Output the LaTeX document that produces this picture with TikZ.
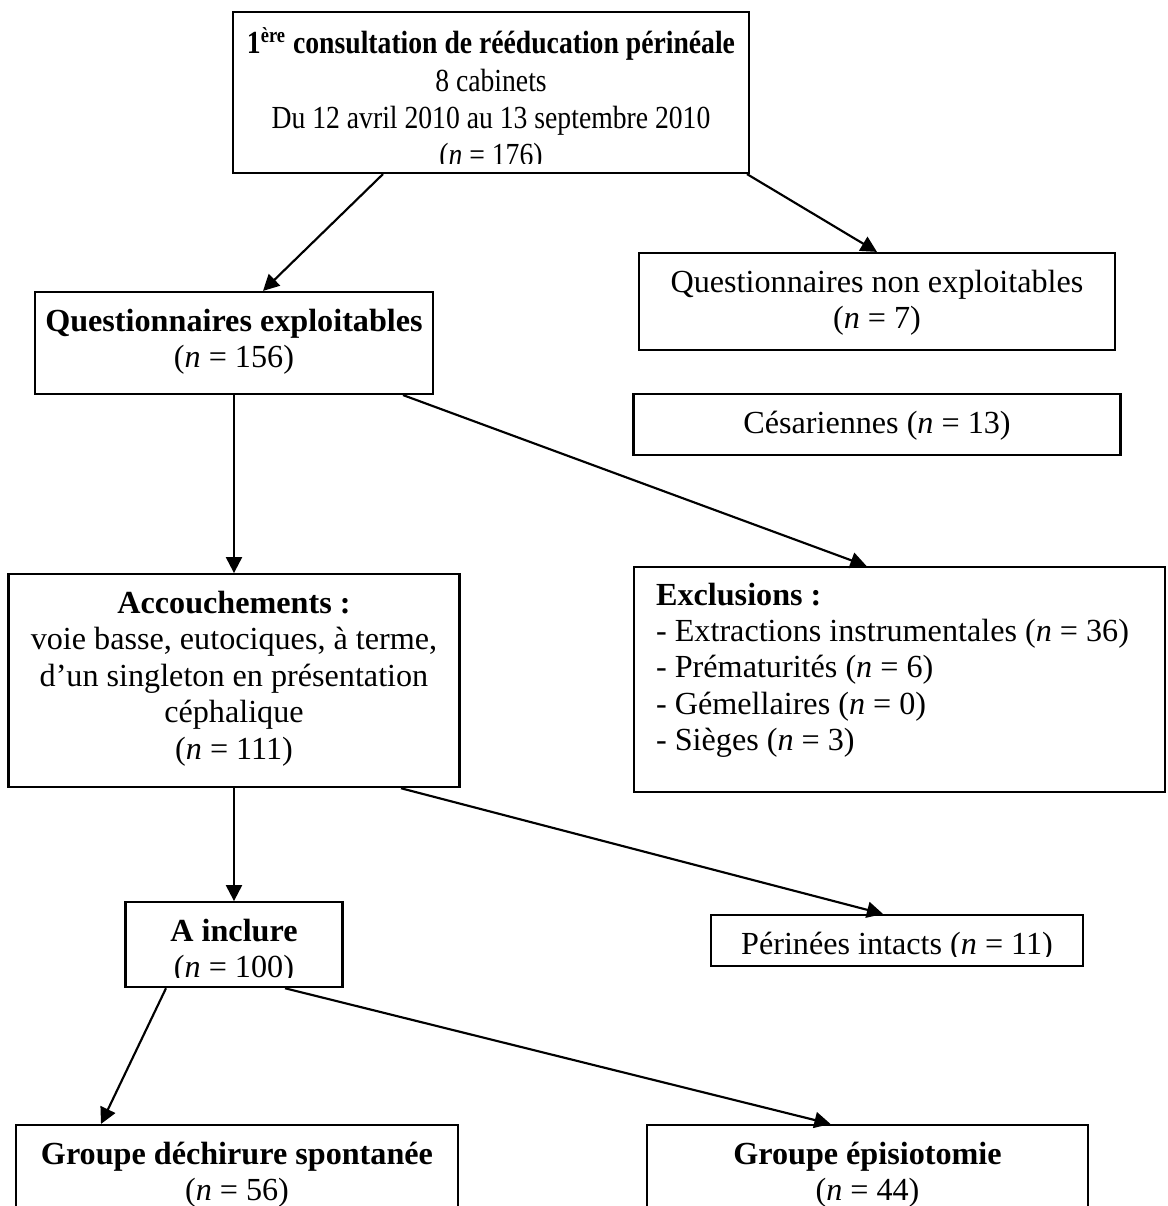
\documentclass[tikz,border=0pt]{standalone}
\usepackage{fontspec}
\setmainfont{Liberation Serif}
\usetikzlibrary{arrows.meta, positioning, calc}
\newcommand{\pxl}{0.373pt}
\newcommand{\boxfont}{\fontsize{12}{13.6}\selectfont}
\newcommand{\nval}[1]{(\textit{n} = #1)}
\tikzset{
  wbox/.style 2 args={rectangle, draw, line width=0.8pt, inner sep=0pt,
    minimum width=#1*\pxl, minimum height=#2*\pxl},
  ctext/.style={path picture={
      \clip ([yshift=10*\pxl]path picture bounding box.south west)
        rectangle (path picture bounding box.north east);
      \node[anchor=base, inner sep=0pt] at ([yshift=-39*\pxl]path picture bounding box.north)
        {\parbox[t]{15cm}{\boxfont\centering #1}};}},
  ltext/.style={path picture={
      \node[anchor=base west, inner sep=0pt] at ([xshift=21*\pxl, yshift=-38*\pxl]path picture bounding box.north west)
        {\parbox[t]{15cm}{\boxfont\raggedright #1}};}},
  arr/.style={-{Triangle[length=6pt, width=6pt]}, line width=0.8pt},
}

\begin{document}
\begin{tikzpicture}[x=\pxl, y=-\pxl, font=\boxfont]
  \path[fill=white, use as bounding box] (0,0) rectangle (1167,1206);

  % left column
  \node[wbox={516}{161}, ctext={\raisebox{-1.1pt}{\scalebox{0.86}[1]{\parbox[t]{260pt}{\fontsize{12}{13.9}\selectfont\centering\textbf{1\textsuperscript{ère} consultation de rééducation périnéale}\\8 cabinets\\Du 12 avril 2010 au 13 septembre 2010\\\nval{176}}}}}] (consult) at (491,92.5) {};
  \node[wbox={398}{102}, ctext={\textbf{Questionnaires exploitables}\\\nval{156}}] (qexp) at (234,343) {};
  \node[wbox={451}{213}, below=66.4pt of qexp, ctext={\textbf{Accouchements :}\\voie basse, eutociques, à terme,\\d’un singleton en présentation\\céphalique\\\nval{111}}] (acc) {};
  \node[wbox={217}{85}, below=42.1pt of acc, ctext={\textbf{A inclure}\\\nval{100}}] (aincl) {};

  % right column
  \node[wbox={476}{97}, ctext={Questionnaires non exploitables\\\nval{7}}] (qnon) at (877,301.5) {};
  \node[wbox={487}{61}, below=15.7pt of qnon, ctext={Césariennes \nval{13}}] (ces) {};
  \node[wbox={531}{225}, ltext={\textbf{Exclusions :}\\- Extractions instrumentales \nval{36}\\- Prématurités \nval{6}\\- Gémellaires \nval{0}\\- Sièges \nval{3}}] (excl) at (899.5,679.5) {};
  \node[wbox={372}{51}, ctext={Périnées intacts \nval{11}}] (perin) at (897,940.5) {};

  % groups
  \node[wbox={442}{120}, ctext={\textbf{Groupe déchirure spontanée}\\\nval{56}}] (gds) at (237,1185) {};
  \node[wbox={441}{120}, ctext={\textbf{Groupe épisiotomie}\\\nval{44}}] (gepi) at (867.5,1185) {};

  \draw[arr] ([xshift=-108*\pxl]consult.south) -- ([xshift=29*\pxl]qexp.north);
  \draw[arr] ([xshift=256*\pxl]consult.south) -- (qnon.north);
  \draw[arr] (qexp.south) -- (acc.north);
  \draw[arr] ([xshift=169*\pxl]qexp.south) -- ([xshift=-33*\pxl]excl.north);
  \draw[arr] (acc.south) -- (aincl.north);
  \draw[arr] ([xshift=167*\pxl]acc.south) -- ([xshift=-14*\pxl]perin.north);
  \draw[arr] ([xshift=-68*\pxl]aincl.south) -- ([xshift=-136*\pxl]gds.north);
  \draw[arr] ([xshift=51*\pxl]aincl.south) -- ([xshift=-37*\pxl]gepi.north);
\end{tikzpicture}
\end{document}
